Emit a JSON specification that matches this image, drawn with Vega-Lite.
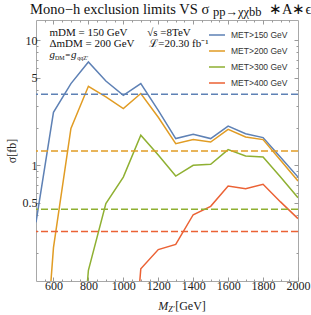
{
  "$schema": "https://vega.github.io/schema/vega-lite/v6.json",
  "width": 262,
  "height": 261,
  "autosize": "none",
  "padding": {"left": 36, "top": 20, "right": 13, "bottom": 34},
  "background": "white",
  "config": {
    "view": {"stroke": "#a8a8a8", "strokeWidth": 1},
    "font": "Liberation Serif"
  },
  "datasets": {
    "curves": [
      {"series": "MET>150 GeV", "mass": 500, "sigma": 0.35},
      {"series": "MET>150 GeV", "mass": 600, "sigma": 2.65},
      {"series": "MET>150 GeV", "mass": 700, "sigma": 4.5},
      {"series": "MET>150 GeV", "mass": 800, "sigma": 6.7},
      {"series": "MET>150 GeV", "mass": 900, "sigma": 4.72},
      {"series": "MET>150 GeV", "mass": 1000, "sigma": 3.63},
      {"series": "MET>150 GeV", "mass": 1100, "sigma": 4.5},
      {"series": "MET>150 GeV", "mass": 1200, "sigma": 2.75},
      {"series": "MET>150 GeV", "mass": 1300, "sigma": 1.636},
      {"series": "MET>150 GeV", "mass": 1400, "sigma": 1.77},
      {"series": "MET>150 GeV", "mass": 1500, "sigma": 1.636},
      {"series": "MET>150 GeV", "mass": 1600, "sigma": 2.06},
      {"series": "MET>150 GeV", "mass": 1700, "sigma": 1.79},
      {"series": "MET>150 GeV", "mass": 1800, "sigma": 1.665},
      {"series": "MET>150 GeV", "mass": 1900, "sigma": 1.16},
      {"series": "MET>150 GeV", "mass": 2000, "sigma": 0.806},
      {"series": "MET>200 GeV", "mass": 500, "sigma": 0.003},
      {"series": "MET>200 GeV", "mass": 600, "sigma": 0.22},
      {"series": "MET>200 GeV", "mass": 700, "sigma": 1.97},
      {"series": "MET>200 GeV", "mass": 800, "sigma": 4.28},
      {"series": "MET>200 GeV", "mass": 900, "sigma": 3.52},
      {"series": "MET>200 GeV", "mass": 1000, "sigma": 2.84},
      {"series": "MET>200 GeV", "mass": 1100, "sigma": 3.75},
      {"series": "MET>200 GeV", "mass": 1200, "sigma": 2.42},
      {"series": "MET>200 GeV", "mass": 1300, "sigma": 1.49},
      {"series": "MET>200 GeV", "mass": 1400, "sigma": 1.606},
      {"series": "MET>200 GeV", "mass": 1500, "sigma": 1.536},
      {"series": "MET>200 GeV", "mass": 1600, "sigma": 1.94},
      {"series": "MET>200 GeV", "mass": 1700, "sigma": 1.684},
      {"series": "MET>200 GeV", "mass": 1800, "sigma": 1.606},
      {"series": "MET>200 GeV", "mass": 1900, "sigma": 1.1},
      {"series": "MET>200 GeV", "mass": 2000, "sigma": 0.749},
      {"series": "MET>300 GeV", "mass": 700, "sigma": 0.003},
      {"series": "MET>300 GeV", "mass": 800, "sigma": 0.145},
      {"series": "MET>300 GeV", "mass": 900, "sigma": 0.494},
      {"series": "MET>300 GeV", "mass": 1000, "sigma": 0.806},
      {"series": "MET>300 GeV", "mass": 1100, "sigma": 1.74},
      {"series": "MET>300 GeV", "mass": 1200, "sigma": 1.21},
      {"series": "MET>300 GeV", "mass": 1300, "sigma": 0.821},
      {"series": "MET>300 GeV", "mass": 1400, "sigma": 1.0},
      {"series": "MET>300 GeV", "mass": 1500, "sigma": 1.02},
      {"series": "MET>300 GeV", "mass": 1600, "sigma": 1.335},
      {"series": "MET>300 GeV", "mass": 1700, "sigma": 1.187},
      {"series": "MET>300 GeV", "mass": 1800, "sigma": 1.165},
      {"series": "MET>300 GeV", "mass": 1900, "sigma": 0.805},
      {"series": "MET>300 GeV", "mass": 2000, "sigma": 0.551},
      {"series": "MET>400 GeV", "mass": 1000, "sigma": 0.003},
      {"series": "MET>400 GeV", "mass": 1100, "sigma": 0.149},
      {"series": "MET>400 GeV", "mass": 1200, "sigma": 0.212},
      {"series": "MET>400 GeV", "mass": 1300, "sigma": 0.233},
      {"series": "MET>400 GeV", "mass": 1400, "sigma": 0.403},
      {"series": "MET>400 GeV", "mass": 1500, "sigma": 0.47},
      {"series": "MET>400 GeV", "mass": 1600, "sigma": 0.683},
      {"series": "MET>400 GeV", "mass": 1700, "sigma": 0.651},
      {"series": "MET>400 GeV", "mass": 1800, "sigma": 0.705},
      {"series": "MET>400 GeV", "mass": 1900, "sigma": 0.51},
      {"series": "MET>400 GeV", "mass": 2000, "sigma": 0.375}
    ],
    "limits": [
      {"series": "MET>150 GeV", "sigma": 3.7},
      {"series": "MET>200 GeV", "sigma": 1.3},
      {"series": "MET>300 GeV", "sigma": 0.445},
      {"series": "MET>400 GeV", "sigma": 0.296}
    ],
    "notes": [
      {"kind": "note", "mass": 577, "sigma": 10.87, "text": "mDM = 150 GeV"},
      {"kind": "note", "mass": 577, "sigma": 8.79, "text": "ΔmDM = 200 GeV"},
      {"kind": "note", "mass": 1137, "sigma": 10.87, "text": "√s =8TeV"},
      {"kind": "note", "mass": 1149, "sigma": 8.79, "text": "ℒ=20.30 fb⁻¹"},
      {"kind": "ital", "mass": 577, "sigma": 7.2, "text": "g"},
      {"kind": "sub", "mass": 609, "sigma": 6.95, "text": "DM"},
      {"kind": "eq", "mass": 667, "sigma": 7.2, "text": "="},
      {"kind": "ital", "mass": 701, "sigma": 7.2, "text": "g"},
      {"kind": "sub", "mass": 736, "sigma": 6.95, "text": "qqZ′"},
      {"kind": "axisital", "mass": 1200, "sigma": 0.0692, "text": "M"},
      {"kind": "axissub", "mass": 1257, "sigma": 0.0667, "text": "Z′"},
      {"kind": "axisroman", "mass": 1297, "sigma": 0.0692, "text": "[GeV]"},
      {"kind": "titlemain", "mass": 466, "sigma": 16.3, "text": "Mono−h exclusion limits VS σ"},
      {"kind": "titlesub", "mass": 1513, "sigma": 15.56, "text": "pp→χχbb"},
      {"kind": "titlemain", "mass": 1834, "sigma": 16.3, "text": "∗A∗ϵ"}
    ]
  },
  "layer": [
    {
      "data": {"name": "curves"},
      "mark": {"type": "line", "strokeWidth": 1.5, "clip": true},
      "encoding": {
        "x": {
          "field": "mass", "type": "quantitative",
          "scale": {"domain": [500, 2000], "nice": false, "zero": false},
          "axis": {
            "orient": "bottom", "title": null, "grid": false, "domain": false,
            "values": [550,600,650,700,750,800,850,900,950,1000,1050,1100,1150,1200,1250,1300,1350,1400,1450,1500,1550,1600,1650,1700,1750,1800,1850,1900,1950,2000],
            "labelExpr": "(datum.value % 200 == 0) ? format(datum.value, 'd') : ''",
            "labelFont": "Liberation Serif", "labelFontSize": 12, "labelColor": "#222",
            "labelPadding": 3, "labelOverlap": false, "labelFlush": false,
            "tickColor": "#999",
            "tickSize": {"condition": {"test": "datum.value % 200 == 0", "value": -4}, "value": -2}
          }
        },
        "y": {
          "field": "sigma", "type": "quantitative",
          "scale": {"type": "log", "domain": [0.119, 14.5], "nice": false},
          "axis": {
            "orient": "left", "title": "σ[fb]", "grid": false, "domain": false,
            "values": [0.2,0.3,0.4,0.5,0.6,0.7,0.8,0.9,1,2,3,4,5,6,7,8,9,10],
            "format": "~g",
            "labelExpr": "(datum.value == 0.5 || datum.value == 1 || datum.value == 5 || datum.value == 10) ? datum.label : ''",
            "labelFont": "Liberation Serif", "labelFontSize": 12, "labelColor": "#222",
            "labelPadding": 3, "labelOverlap": false, "labelFlush": false,
            "titleFont": "Liberation Serif", "titleFontSize": 12, "titleFontWeight": "normal", "titleColor": "#222", "titlePadding": 4,
            "tickColor": "#999",
            "tickSize": {"condition": {"test": "datum.value == 0.5 || datum.value == 1 || datum.value == 5 || datum.value == 10", "value": -4}, "value": -2}
          }
        },
        "color": {
          "field": "series", "type": "nominal",
          "scale": {
            "domain": ["MET>150 GeV", "MET>200 GeV", "MET>300 GeV", "MET>400 GeV"],
            "range": ["#5E81B5", "#E19C24", "#8FB032", "#EB6235"]
          },
          "legend": {
            "title": null, "orient": "none", "legendX": 172, "legendY": 6,
            "symbolType": "stroke", "symbolSize": 256, "symbolStrokeWidth": 1.5, "symbolDash": [1, 0],
            "labelFont": "Liberation Sans", "labelFontSize": 8.5, "labelColor": "#333",
            "labelOffset": 5, "rowPadding": 2
          }
        }
      }
    },
    {
      "data": {"name": "limits"},
      "mark": {"type": "rule", "strokeDash": [7, 3], "strokeWidth": 1.5},
      "encoding": {
        "y": {
          "field": "sigma", "type": "quantitative",
          "axis": {
            "orient": "right", "title": null, "grid": false, "domain": false, "labels": false,
            "values": [0.2,0.3,0.4,0.5,0.6,0.7,0.8,0.9,1,2,3,4,5,6,7,8,9,10],
            "tickColor": "#999",
            "tickSize": {"condition": {"test": "datum.value == 0.5 || datum.value == 1 || datum.value == 5 || datum.value == 10", "value": -4}, "value": -2}
          }
        },
        "color": {"field": "series", "type": "nominal"}
      }
    },
    {
      "data": {"name": "notes"},
      "transform": [{"filter": "datum.kind == 'note'"}],
      "mark": {"type": "text", "align": "left", "baseline": "alphabetic", "font": "Liberation Serif", "fontSize": 11, "color": "#111"},
      "encoding": {
        "x": {
          "field": "mass", "type": "quantitative",
          "axis": {
            "orient": "top", "title": null, "grid": false, "domain": false, "labels": false,
            "values": [550,600,650,700,750,800,850,900,950,1000,1050,1100,1150,1200,1250,1300,1350,1400,1450,1500,1550,1600,1650,1700,1750,1800,1850,1900,1950],
            "tickColor": "#999",
            "tickSize": {"condition": {"test": "datum.value % 200 == 0", "value": -4}, "value": -2}
          }
        },
        "y": {"field": "sigma", "type": "quantitative", "axis": null},
        "text": {"field": "text"}
      }
    },
    {
      "data": {"name": "notes"},
      "transform": [{"filter": "datum.kind == 'ital'"}],
      "mark": {"type": "text", "align": "left", "baseline": "alphabetic", "font": "Liberation Serif", "fontStyle": "italic", "fontSize": 11, "color": "#111"},
      "encoding": {
        "x": {"field": "mass", "type": "quantitative", "axis": null},
        "y": {"field": "sigma", "type": "quantitative", "axis": null},
        "text": {"field": "text"}
      }
    },
    {
      "data": {"name": "notes"},
      "transform": [{"filter": "datum.kind == 'sub'"}],
      "mark": {"type": "text", "align": "left", "baseline": "alphabetic", "font": "Liberation Serif", "fontSize": 6, "color": "#111"},
      "encoding": {
        "x": {"field": "mass", "type": "quantitative", "axis": null},
        "y": {"field": "sigma", "type": "quantitative", "axis": null},
        "text": {"field": "text"}
      }
    },
    {
      "data": {"name": "notes"},
      "transform": [{"filter": "datum.kind == 'eq'"}],
      "mark": {"type": "text", "align": "left", "baseline": "alphabetic", "font": "Liberation Serif", "fontSize": 9, "color": "#111"},
      "encoding": {
        "x": {"field": "mass", "type": "quantitative", "axis": null},
        "y": {"field": "sigma", "type": "quantitative", "axis": null},
        "text": {"field": "text"}
      }
    },
    {
      "data": {"name": "notes"},
      "transform": [{"filter": "datum.kind == 'axisital'"}],
      "mark": {"type": "text", "align": "left", "baseline": "alphabetic", "font": "Liberation Serif", "fontStyle": "italic", "fontSize": 12, "color": "#222"},
      "encoding": {
        "x": {"field": "mass", "type": "quantitative", "axis": null},
        "y": {"field": "sigma", "type": "quantitative", "axis": null},
        "text": {"field": "text"}
      }
    },
    {
      "data": {"name": "notes"},
      "transform": [{"filter": "datum.kind == 'axissub'"}],
      "mark": {"type": "text", "align": "left", "baseline": "alphabetic", "font": "Liberation Serif", "fontStyle": "italic", "fontSize": 8, "color": "#222"},
      "encoding": {
        "x": {"field": "mass", "type": "quantitative", "axis": null},
        "y": {"field": "sigma", "type": "quantitative", "axis": null},
        "text": {"field": "text"}
      }
    },
    {
      "data": {"name": "notes"},
      "transform": [{"filter": "datum.kind == 'axisroman'"}],
      "mark": {"type": "text", "align": "left", "baseline": "alphabetic", "font": "Liberation Serif", "fontSize": 12, "color": "#222"},
      "encoding": {
        "x": {"field": "mass", "type": "quantitative", "axis": null},
        "y": {"field": "sigma", "type": "quantitative", "axis": null},
        "text": {"field": "text"}
      }
    },
    {
      "data": {"name": "notes"},
      "transform": [{"filter": "datum.kind == 'titlemain'"}],
      "mark": {"type": "text", "align": "left", "baseline": "alphabetic", "font": "Liberation Serif", "fontSize": 14.5, "color": "#111"},
      "encoding": {
        "x": {"field": "mass", "type": "quantitative", "axis": null},
        "y": {"field": "sigma", "type": "quantitative", "axis": null},
        "text": {"field": "text"}
      }
    },
    {
      "data": {"name": "notes"},
      "transform": [{"filter": "datum.kind == 'titlesub'"}],
      "mark": {"type": "text", "align": "left", "baseline": "alphabetic", "font": "Liberation Serif", "fontSize": 12.5, "color": "#111"},
      "encoding": {
        "x": {"field": "mass", "type": "quantitative", "axis": null},
        "y": {"field": "sigma", "type": "quantitative", "axis": null},
        "text": {"field": "text"}
      }
    }
  ],
  "resolve": {"axis": {"x": "independent", "y": "independent"}}
}
